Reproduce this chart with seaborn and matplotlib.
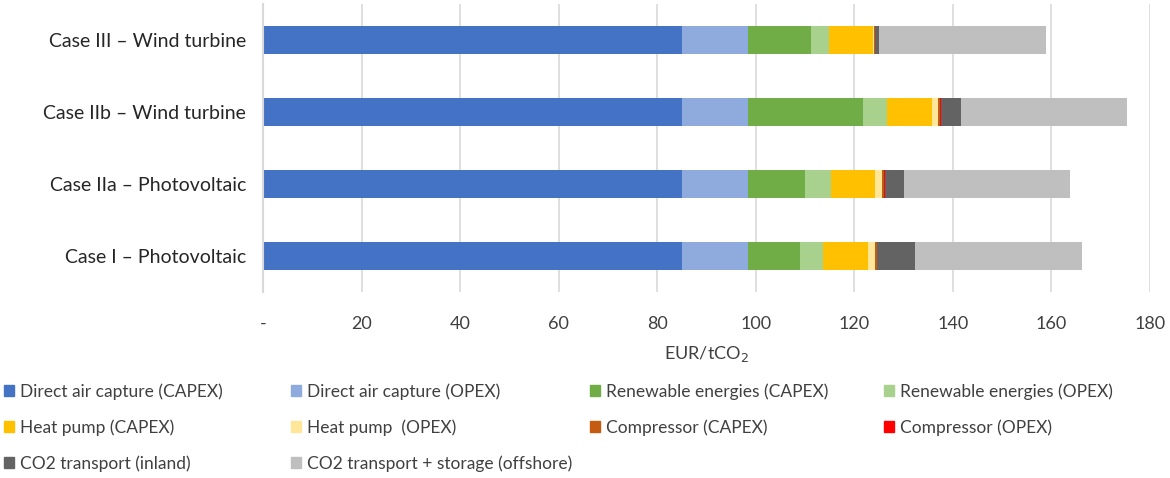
import pandas as pd
import matplotlib.pyplot as plt
import matplotlib.patches as mpatches
import seaborn as sns

sns.set_style("white")
plt.rcParams['font.family'] = ['Lato', 'DejaVu Sans']

cases = ['Case III – Wind turbine', 'Case IIb – Wind turbine',
         'Case IIa – Photovoltaic', 'Case I – Photovoltaic']

components = ['Direct air capture (CAPEX)', 'Direct air capture (OPEX)',
              'Renewable energies (CAPEX)', 'Renewable energies (OPEX)',
              'Heat pump (CAPEX)', 'Heat pump  (OPEX)',
              'Compressor (CAPEX)', 'Compressor (OPEX)',
              'CO2 transport (inland)', 'CO2 transport + storage (offshore)']

dac_capex = [85.0, 85.0, 85.0, 85.0]
dac_opex = [13.4, 13.4, 13.4, 13.4]
re_capex = [12.9, 23.4, 11.5, 10.5]
re_opex = [3.5, 4.8, 5.3, 4.8]
hp_capex = [8.9, 9.1, 9.0, 9.1]
hp_opex = [0.2, 1.3, 1.4, 1.3]
comp_capex = [0.2, 0.4, 0.5, 0.5]
comp_opex = [0.1, 0.2, 0.1, 0.1]
co2_inland = [0.8, 4.0, 3.8, 7.7]
co2_offshore = [33.8, 33.8, 33.8, 33.8]

colors = ['#4472C4', '#8FAADC', '#70AD47', '#A9D18E', '#FFC000',
          '#FFE699', '#C55A11', '#FF0000', '#636363', '#BFBFBF']

df = pd.DataFrame({
    'Case': cases,
    components[0]: dac_capex, components[1]: dac_opex,
    components[2]: re_capex, components[3]: re_opex,
    components[4]: hp_capex, components[5]: hp_opex,
    components[6]: comp_capex, components[7]: comp_opex,
    components[8]: co2_inland, components[9]: co2_offshore,
})
cum = df[components].cumsum(axis=1)
cum['Case'] = df['Case']

fig = plt.figure(figsize=(11.7, 4.78), dpi=100)
ax = fig.add_axes([263 / 1170, 1 - 292 / 478, (1150 - 263) / 1170, 288 / 478])

# stacked bars: draw cumulative totals from the outermost segment inward
for comp, col in reversed(list(zip(components, colors))):
    sns.barplot(data=cum, y='Case', x=comp, order=cases, color=col,
                width=0.39, saturation=1, orient='h', ax=ax, linewidth=0)

ax.set_xlim(0, 180)
ax.set_ylim(3.5, -0.5)
ax.set_xticks(range(0, 181, 20))
ax.set_xticklabels(['-'] + [str(v) for v in range(20, 181, 20)])
ax.grid(axis='x', color='#D9D9D9', linewidth=1.2)
ax.set_axisbelow(True)
for s in ['top', 'right', 'bottom']:
    ax.spines[s].set_visible(False)
ax.spines['left'].set_color('#D9D9D9')
ax.spines['left'].set_linewidth(1.5)
ax.tick_params(axis='x', length=0, pad=17, labelsize=13, colors='#404040')
ax.tick_params(axis='y', length=0, pad=12, labelsize=14, colors='#262626')
ax.set_ylabel('')
ax.set_xlabel('EUR/tCO$_2$', fontsize=13, color='#404040', labelpad=9)

# legend: four columns at fixed positions, filled row by row
col_x = [4, 291, 590, 884]
for c in range(4):
    idx = list(range(c, len(components), 4))
    handles = [mpatches.Patch(color=colors[i], label=components[i]) for i in idx]
    fig.legend(handles=handles, loc='upper left',
               bbox_to_anchor=(col_x[c] / 1170 - 0.006, 1 - 376 / 478),
               frameon=False, fontsize=12.5, handlelength=0.6, handleheight=0.6,
               handletextpad=0.3, labelspacing=1.12, borderaxespad=0,
               labelcolor='#404040')

fig.savefig('out.png', dpi=100)
